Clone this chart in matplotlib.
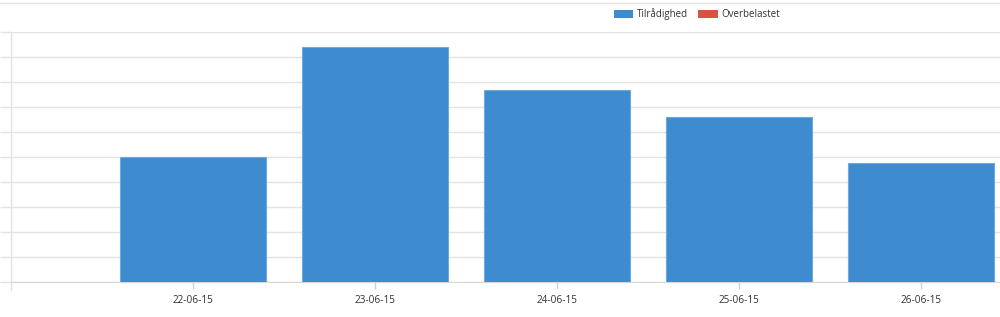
import matplotlib.pyplot as plt
from matplotlib.patches import Patch
from matplotlib.lines import Line2D

dates = ['22-06-15', '23-06-15', '24-06-15', '25-06-15', '26-06-15']
tilraadighed = [50, 94, 77, 66, 47.6]
overbelastet = [0, 0, 0, 0, 0]
series_names = ['Tilrådighed', 'Overbelastet']

blue = '#3e8bd0'
red = '#d65340'
grid_col = '#e3e3e3'
txt_col = '#333333'

plt.rcParams['font.family'] = ['Open Sans', 'DejaVu Sans']

fig = plt.figure(figsize=(10, 3.17), dpi=100)
ax = fig.add_axes([0.011, 1 - 282.3 / 317, 0.989, (282.3 - 32.3) / 317])

x = list(range(1, len(dates) + 1))
ax.bar(x, tilraadighed, width=0.8, color=blue, edgecolor='#6ea8de', linewidth=0.8, zorder=3)
ax.bar(x, overbelastet, width=0.8, bottom=tilraadighed, color=red, linewidth=0, zorder=3)

ax.set_xlim(0, 5.434)
ax.set_ylim(0, 100)
ax.set_yticks(range(0, 101, 10))
ax.set_yticklabels([])
ax.set_xticks(x)
ax.set_xticklabels(dates, fontsize=7.2, color=txt_col)
ax.grid(axis='y', color=grid_col, linewidth=1, zorder=0)
ax.tick_params(axis='y', length=8, color=grid_col, width=1)
ax.tick_params(axis='x', length=5, color='#d0d0d0', width=1, pad=4)

for s in ['top', 'right']:
    ax.spines[s].set_visible(False)
ax.spines['left'].set_color(grid_col)
ax.spines['bottom'].set_color('#d6d6d6')
ax.axvline(0, ymin=-0.032, ymax=1, color=grid_col, linewidth=1, clip_on=False)

# border line at the very top
fig.add_artist(Line2D([0, 1], [1 - 3 / 317, 1 - 3 / 317], color=grid_col, linewidth=1))

handles = [Patch(facecolor=blue, edgecolor='none'), Patch(facecolor=red, edgecolor='none')]
fig.legend(handles, series_names, loc='center left', bbox_to_anchor=(0.614, 1 - 14 / 317),
           ncol=2, frameon=False, fontsize=7, labelcolor=txt_col, handlelength=2.0,
           handleheight=0.9, handletextpad=0.4, columnspacing=1.0, borderpad=0,
           borderaxespad=0)

fig.savefig('out.png', dpi=100)
